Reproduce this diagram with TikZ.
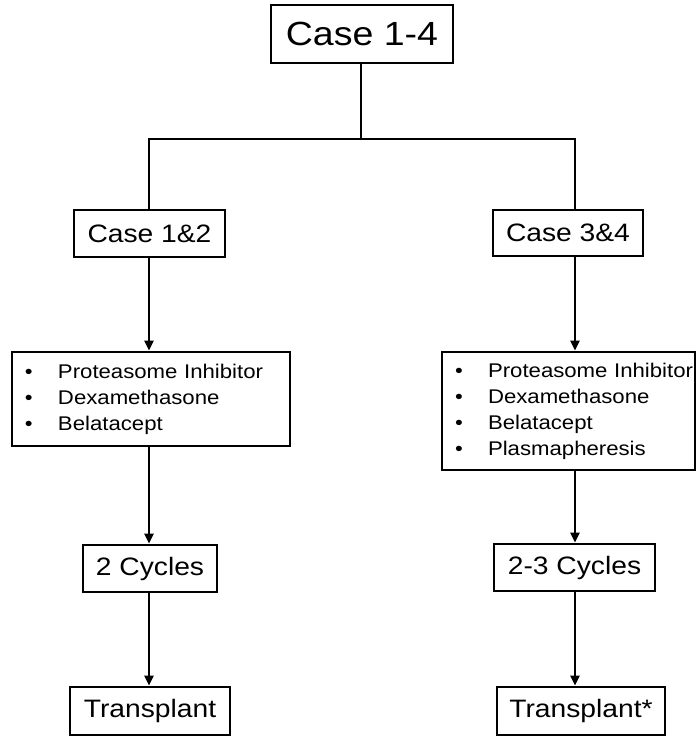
\documentclass[tikz,border=0pt]{standalone}
\usepackage{fontspec}
\setmainfont[FakeStretch=1.12]{Liberation Sans}
\usetikzlibrary{arrows.meta,positioning}
\tikzset{
  casebox/.style={draw=black,line width=2.8pt,inner sep=0pt,
                  align=center,font=\fontsize{25.2}{30}\selectfont},
  drugbox/.style={draw=black,line width=2.8pt,inner xsep=4pt,inner ysep=0pt,
                  align=left,font=\fontsize{19.8}{26}\selectfont},
  joinline/.style={line width=2.8pt},
  flowarr/.style={-{Triangle[length=10pt,width=9pt]},line width=2.8pt}
}
\newcommand\itm[1]{\hspace*{9pt}\makebox[33pt][l]{\textbullet}\mbox{#1}}

\begin{document}
\begin{tikzpicture}[x=1pt,y=-1pt]
  \useasboundingbox (0,0) rectangle (696,737);

  % top of the tree
  \node[casebox,font=\fontsize{33.5}{40}\selectfont,
        minimum width=182pt,minimum height=58pt] (top) at (362,34) {Case 1-4};

  % two groups
  \node[casebox,minimum width=151pt,minimum height=47pt] (c12) at (149.5,233.5) {Case 1\&2};
  \node[casebox,minimum width=150pt,minimum height=46pt] (c34) at (568,233) {Case 3\&4};

  % regimens
  \node[drugbox,text width=270pt,minimum height=94pt] (drugsL) at (151,399)
    {\itm{Proteasome Inhibitor}\\ \itm{Dexamethasone}\\ \itm{Belatacept}};
  \node[drugbox,text width=245pt,minimum height=118pt] (drugsR) at (568.5,411)
    {\itm{Proteasome Inhibitor}\\ \itm{Dexamethasone}\\ \itm{Belatacept}\\ \itm{Plasmapheresis}};

  % cycles and outcome
  \node[casebox,minimum width=134pt,minimum height=47pt] (cyc2) at (150,568.5) {2 Cycles};
  \node[casebox,minimum width=161pt,minimum height=47pt] (cyc23) at (574.5,567.5) {2-3 Cycles};
  \node[casebox,minimum width=160pt,minimum height=48pt] (txL) at (150,711) {Transplant};
  \node[casebox,minimum width=168pt,minimum height=48pt] (txR) at (581,711) {Transplant*};

  % split from the top box
  \coordinate (split) at (361,139);
  \coordinate (colL) at (149,0);
  \coordinate (colR) at (575,0);
  \draw[joinline] (top.south -| split) -- (split);
  \draw[joinline] (c12.north -| colL) |- (split) -| (c34.north -| colR);

  % left column
  \draw[flowarr] (c12.south -| colL) -- (drugsL.north -| colL);
  \draw[flowarr] (drugsL.south -| colL) -- (cyc2.north -| colL);
  \draw[flowarr] (cyc2.south -| colL) -- (txL.north -| colL);

  % right column
  \draw[flowarr] (c34.south -| colR) -- (drugsR.north -| colR);
  \draw[flowarr] (drugsR.south -| colR) -- (cyc23.north -| colR);
  \draw[flowarr] (cyc23.south -| colR) -- (txR.north -| colR);
\end{tikzpicture}
\end{document}
